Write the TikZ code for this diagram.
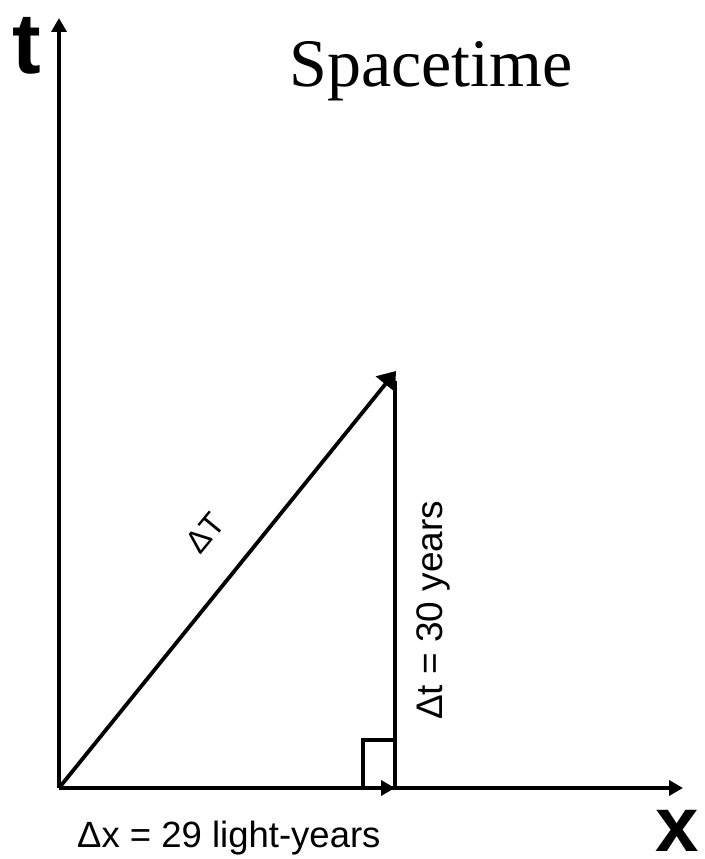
\documentclass[tikz,border=0pt]{standalone}
\usepackage{fontspec}
\setmainfont{Liberation Serif}
\newfontfamily\arial{Liberation Sans}
\usetikzlibrary{arrows.meta}
\begin{document}
\begin{tikzpicture}[x=1pt,y=1pt,
  axis/.style={line width=3.8pt,-{Triangle[length=14pt,width=15pt]}},
  plain/.style={line width=3.8pt},
  lbl/.style={inner sep=0pt,font=\arial}]
\useasboundingbox (0,0) rectangle (704,859);
\coordinate (O) at (59,71);
\coordinate (T) at (59,841);
\coordinate (X) at (683,71);
\coordinate (P) at (395,71);
\coordinate (Q) at (396,488);
\coordinate (Qv) at (395,478);
\coordinate (B1) at (363,71);
\coordinate (B2) at (363,119);
\coordinate (B3) at (395,119);
\draw[axis] (O) -- (T);
\draw[axis] (O) -- (X);
\draw[axis] (O) -- (P);
\draw[plain] (P) -- (Qv);
\draw[line width=3.8pt,-{Triangle[length=17pt,width=24pt]}] (O) -- (Q);
\draw[line width=3.2pt] (B1) -- (B2) -- (B3);
\node[lbl,font=\arial\bfseries\fontsize{86}{86}\selectfont] (tl) at (27,813) {t};
\node[lbl,font=\arial\bfseries\fontsize{78}{78}\selectfont] (xl) at (677,28) {x};
\node[inner sep=0pt,anchor=base west,font=\fontsize{68}{68}\selectfont] (title) at (289,772) {Spacetime};
\node[lbl,anchor=base west,font=\arial\fontsize{36.5}{36.5}\selectfont] (dx) at (77,11) {Δx = 29 light-years};
\node[lbl,anchor=base west,rotate=90,font=\arial\fontsize{37}{37}\selectfont] (dt) at (442,139) {Δt = 30 years};
\node[lbl,rotate=50.66,font=\arial\fontsize{32}{32}\selectfont] (dT) at (205,326) {ΔT};
\end{tikzpicture}
\end{document}
